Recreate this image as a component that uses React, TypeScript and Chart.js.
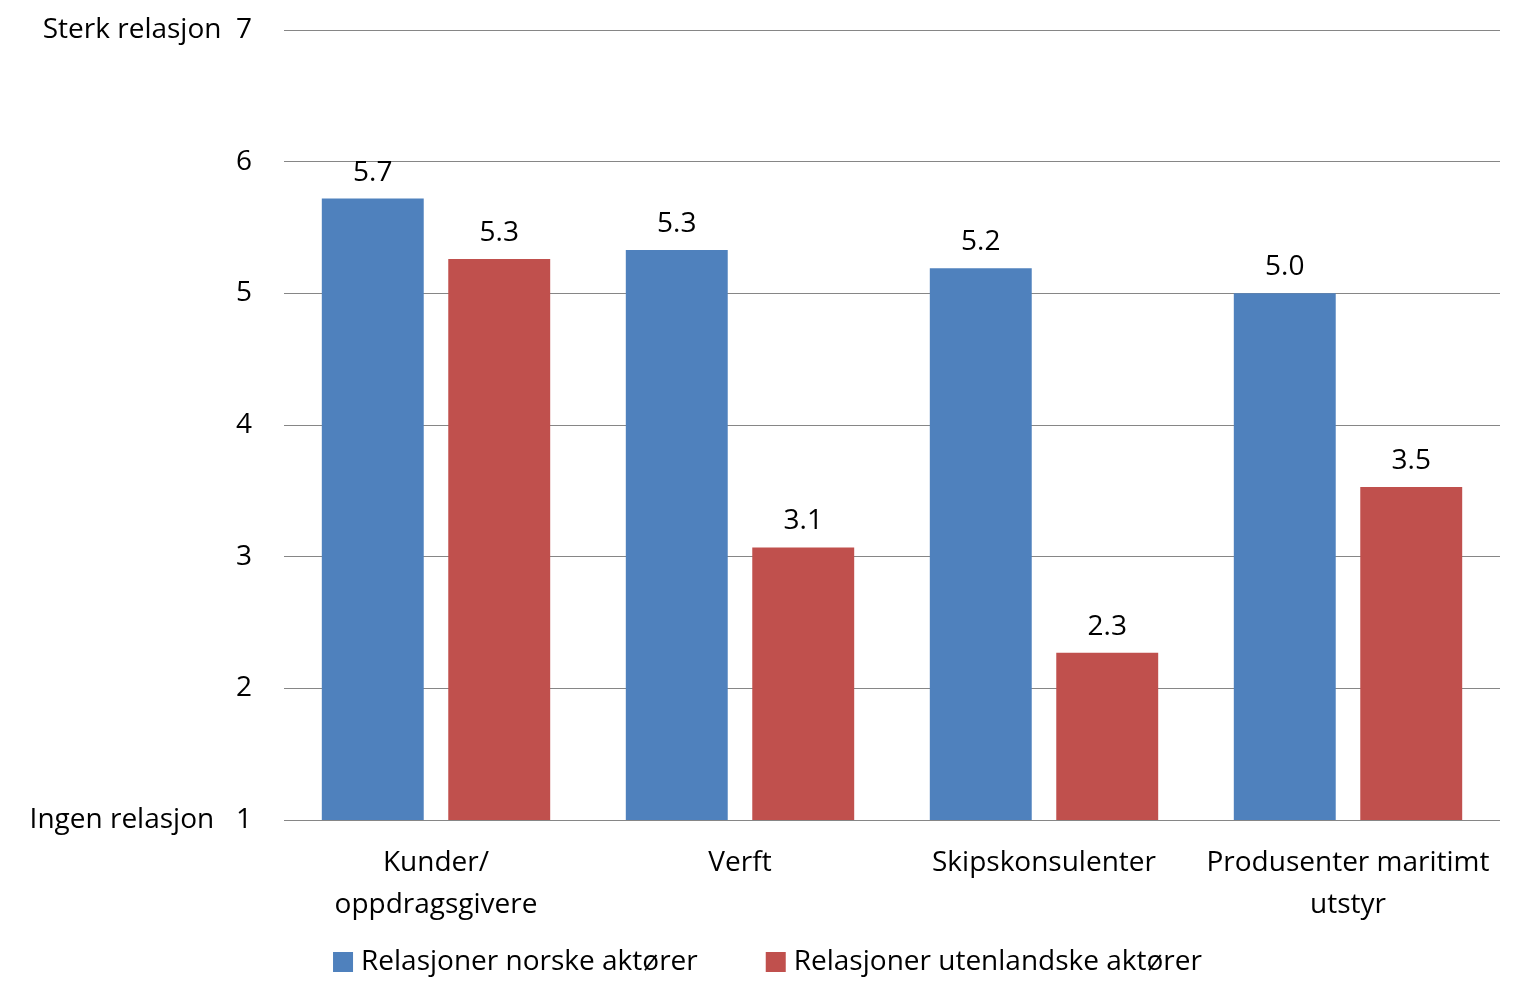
import React, { useEffect, useRef } from "react";
import { Chart, registerables } from "chart.js";

Chart.register(...registerables);

const categories: (string | string[])[] = [
  ["Kunder/", "oppdragsgivere"],
  "Verft",
  "Skipskonsulenter",
  ["Produsenter maritimt", "utstyr"],
];
const seriesNames = ["Relasjoner norske aktører", "Relasjoner utenlandske aktører"];
const seriesColors = ["#4F81BD", "#C0504D"];
const norske = [5.72, 5.33, 5.19, 5.0];
const utenlandske = [5.26, 3.07, 2.27, 3.53];
const yTopLabel = "Sterk relasjon";
const yBottomLabel = "Ingen relasjon";

const FONT = "'Open Sans'";
const FS = 28;

const valueLabels = {
  id: "valueLabels",
  afterDatasetsDraw(chart: any) {
    const ctx = chart.ctx;
    ctx.save();
    ctx.font = `${FS}px ${FONT}`;
    ctx.fillStyle = "#000";
    ctx.textAlign = "center";
    ctx.textBaseline = "alphabetic";
    chart.data.datasets.forEach((ds: any, i: number) => {
      const meta = chart.getDatasetMeta(i);
      meta.data.forEach((bar: any, j: number) => {
        ctx.fillText(Number(ds.data[j]).toFixed(1), bar.x, bar.y - 18);
      });
    });
    ctx.restore();
  },
};

const bottomLegend = {
  id: "bottomLegend",
  afterDraw(chart: any) {
    const ctx = chart.ctx;
    const box = 20;
    const gapText = 8;
    const gapItems = 68;
    ctx.save();
    ctx.font = `${FS}px ${FONT}`;
    const items = chart.data.datasets.map((ds: any) => ({
      text: ds.label,
      color: ds.backgroundColor,
      w: box + gapText + ctx.measureText(ds.label).width,
    }));
    const total = items.reduce((a: number, it: any) => a + it.w, 0) + gapItems * (items.length - 1);
    let x = chart.width / 2 + 6 - total / 2;
    const yc = chart.chartArea.bottom + 142;
    ctx.textBaseline = "middle";
    ctx.textAlign = "left";
    items.forEach((it: any) => {
      ctx.fillStyle = it.color;
      ctx.fillRect(x, yc - box / 2, box, box);
      ctx.fillStyle = "#000";
      ctx.fillText(it.text, x + box + gapText, yc);
      x += it.w + gapItems;
    });
    ctx.restore();
  },
};

export default function App() {
  const ref = useRef<HTMLCanvasElement>(null);
  useEffect(() => {
    if (!ref.current) return;
    const chart = new Chart(ref.current, {
      type: "bar",
      data: {
        labels: categories,
        datasets: [
          {
            label: seriesNames[0],
            data: norske,
            backgroundColor: seriesColors[0],
            categoryPercentage: 0.832,
            barPercentage: 0.806,
          },
          {
            label: seriesNames[1],
            data: utenlandske,
            backgroundColor: seriesColors[1],
            categoryPercentage: 0.832,
            barPercentage: 0.806,
          },
        ],
      },
      options: {
        responsive: false,
        animation: false,
        layout: { padding: { top: 30, right: 23, bottom: 71, left: 0 } },
        plugins: {
          legend: { display: false },
          tooltip: { enabled: false },
        },
        scales: {
          x: {
            grid: { display: false },
            border: { display: false },
            ticks: {
              color: "#000",
              font: { family: FONT, size: FS, lineHeight: 1.5 },
              padding: 14,
              maxRotation: 0,
              autoSkip: false,
            },
            afterFit: (s: any) => {
              s.height = 110;
            },
          },
          y: {
            min: 1,
            max: 7,
            grid: { color: "#868686", lineWidth: 1, drawTicks: false },
            border: { display: false },
            ticks: {
              stepSize: 1,
              color: "#000",
              font: { family: FONT, size: FS },
              padding: 32,
              callback: (v: any) =>
                v === 7 ? `${yTopLabel}  7` : v === 1 ? `${yBottomLabel}   1` : String(v),
            },
            afterFit: (s: any) => {
              s.width = 284;
              s.paddingTop = 0;
              s.paddingBottom = 0;
            },
          },
        },
      },
      plugins: [valueLabels, bottomLegend],
    });
    return () => chart.destroy();
  }, []);
  return (
    <div style={{ position: "absolute", left: 0, top: 0, width: 1523, height: 1001, background: "#fff" }}>
      <canvas ref={ref} width={1523} height={1001} />
    </div>
  );
}
